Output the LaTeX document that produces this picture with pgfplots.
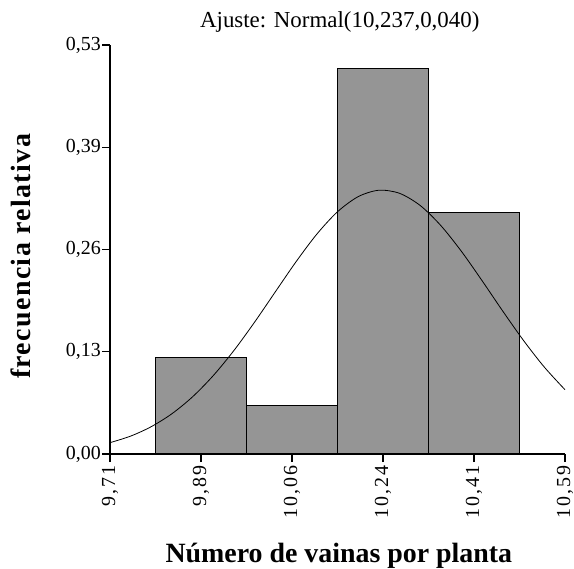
\documentclass[border=0pt]{standalone}
\usepackage{fontspec}
\setmainfont{Liberation Serif}
\newfontfamily\xtickfont[LetterSpace=11]{Liberation Serif}
\newfontfamily\ylabfont[LetterSpace=5]{Liberation Serif}
\usepackage{pgfplots}
\pgfplotsset{compat=1.18}
\begin{document}
\begin{tikzpicture}
\path[use as bounding box] (0,0) rectangle (574bp,569bp);
\begin{axis}[
  at={(110bp,115bp)}, anchor=south west,
  scale only axis, width=455bp, height=409bp,
  xmin=9.71, xmax=10.59, ymin=0, ymax=0.53,
  axis x line=bottom, axis y line=left,
  axis line style={-, line width=1.4pt, black},
  tick align=outside, tick style={line width=1.4pt, black},
  major tick length=8bp,
  xtick={9.71,9.886,10.062,10.238,10.414,10.59},
  xticklabels={{9,71},{9,89},{10,06},{10,24},{10,41},{10,59}},
  ytick={0,0.1325,0.265,0.3975,0.53},
  yticklabels={{0,00},{0,13},{0,26},{0,39},{0,53}},
  xticklabel style={rotate=90, anchor=east, font=\xtickfont\fontsize{20}{24}\selectfont, inner sep=3bp},
  yticklabel style={font=\fontsize{20}{24}\selectfont, inner sep=1bp},
  title={Ajuste: Normal(10,237,0,040)},
  title style={at={(axis description cs:0.505,1.029)}, anchor=base, font=\fontsize{23}{27}\selectfont},
  xlabel={Número de vainas por planta},
  xlabel style={at={(axis description cs:0.503,-0.2665)}, anchor=base, font=\fontsize{28}{32}\selectfont\bfseries},
  ylabel={frecuencia relativa},
  ylabel style={at={(axis description cs:-0.196,0.483)}, anchor=center, font=\ylabfont\fontsize{28}{32}\selectfont\bfseries},
  clip=false,
]
\addplot[ybar interval, fill={rgb,255:red,149;green,149;blue,149}, draw=black, line width=1.2pt]
  coordinates {(9.798,0.125) (9.974,0.0625) (10.150,0.5) (10.326,0.3125) (10.502,0.3125)};
\addplot[black, line width=0.8pt, smooth, no marks] coordinates {
(9.71,0.0147) (9.75,0.0232) (9.79,0.0355) (9.83,0.0523) (9.87,0.0743)
(9.91,0.1018) (9.95,0.1344) (9.99,0.1712) (10.03,0.2104) (10.07,0.2493)
(10.11,0.2849) (10.15,0.3139) (10.19,0.3335) (10.23,0.3418) (10.27,0.3378)
(10.31,0.3220) (10.35,0.2959) (10.39,0.2623) (10.43,0.2242) (10.47,0.1848)
(10.51,0.1469) (10.55,0.1126) (10.59,0.0833)};
\end{axis}
\end{tikzpicture}
\end{document}
